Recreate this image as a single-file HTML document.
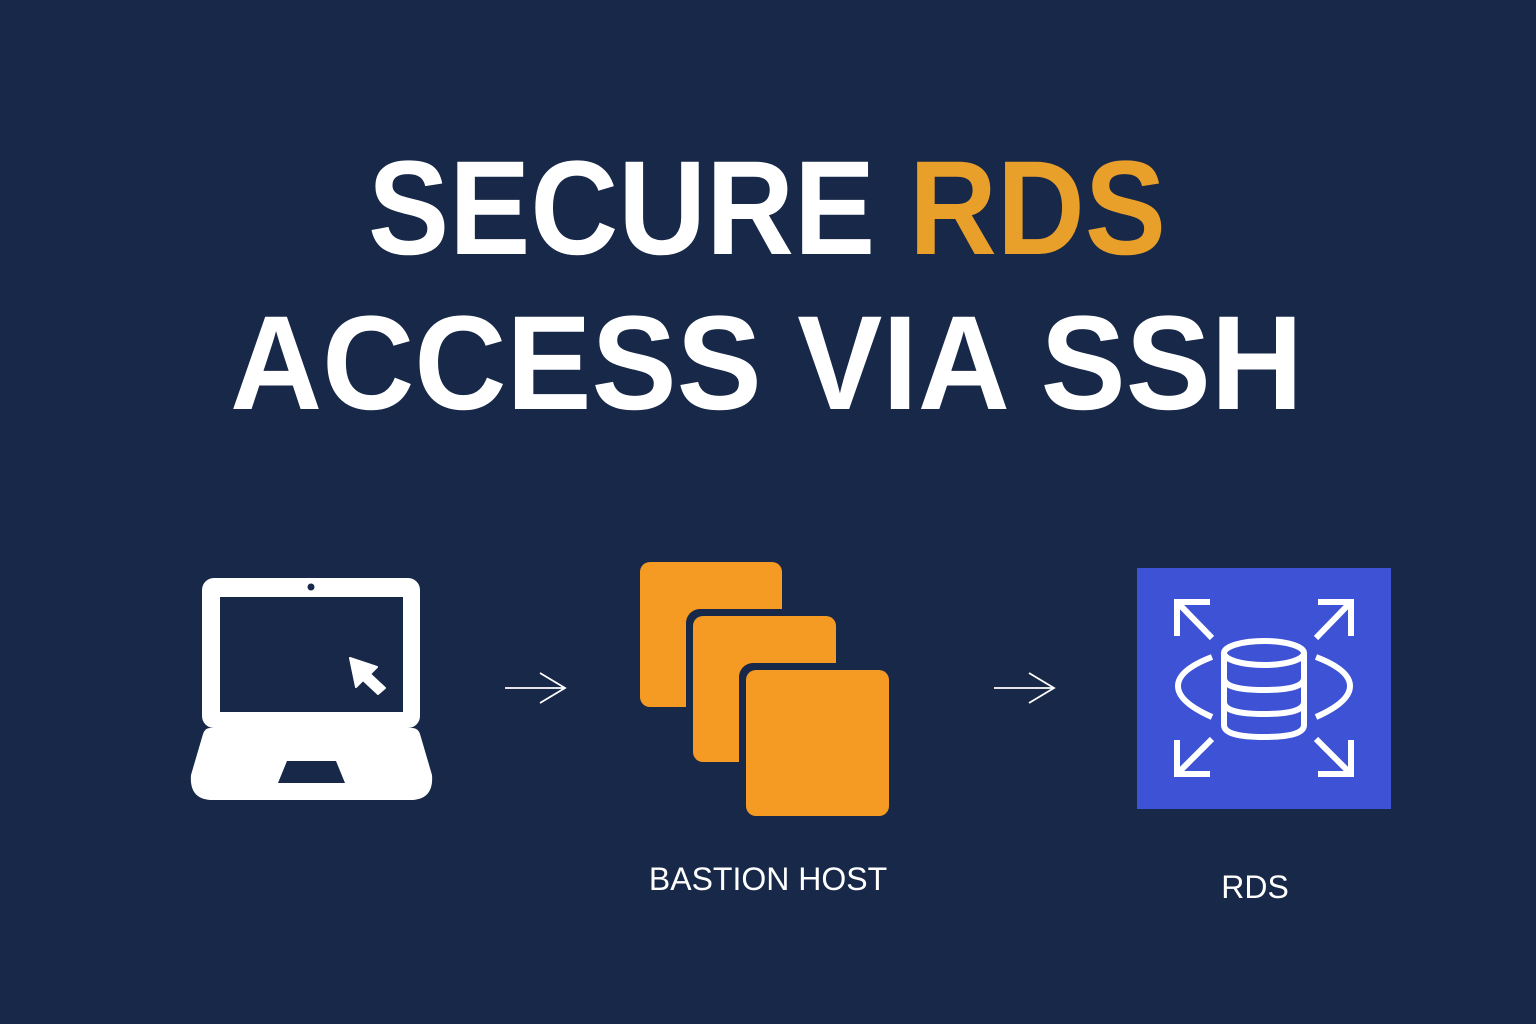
<!DOCTYPE html>
<html><head><meta charset="utf-8"><style>
html,body{margin:0;padding:0;background:#182848;}
svg{display:block}
</style></head><body>
<svg width="1536" height="1024" viewBox="0 0 1536 1024" xmlns="http://www.w3.org/2000/svg">
<rect width="1536" height="1024" fill="#182848"/>
<g font-family="Liberation Sans, Arial, sans-serif" font-weight="700" font-size="134">
<text x="368" y="254" textLength="798" lengthAdjust="spacingAndGlyphs"><tspan fill="#ffffff">SECURE </tspan><tspan fill="#e8a02a">RDS</tspan></text>
<text x="230" y="409" fill="#ffffff" textLength="1073" lengthAdjust="spacingAndGlyphs">ACCESS VIA SSH</text>
</g>
<rect x="202" y="578" width="218" height="150" rx="12" fill="#fff"/>
<rect x="220" y="597" width="183" height="115" fill="#182848"/>
<circle cx="311" cy="587" r="3.5" fill="#182848"/>
<path d="M210 728 H412 Q418 728 420 734 L432 775 Q434 800 410 800 H213 Q189 800 191 775 L203 734 Q205 728 210 728 Z" fill="#fff"/>
<path d="M287 761 H336 L345 783 H278 Z" fill="#182848"/>
<path d="M350 658 L377 667 L370 674 L385 688 L378 694 L363 680 L356 687 Z" fill="#fff" stroke="#fff" stroke-width="2" stroke-linejoin="round"/>
<g stroke="#fff" stroke-width="1.8" fill="none">
<path d="M505 688 H564 M540 673 L565 688 L540 703"/>
<path d="M994 688 H1053 M1029 673 L1054 688 L1029 703"/>
</g>
<rect x="640" y="562" width="142" height="145" rx="10" fill="#f59b23"/>
<rect x="686" y="609" width="157" height="160" rx="14" fill="#182848"/>
<rect x="693" y="616" width="143" height="146" rx="10" fill="#f59b23"/>
<rect x="739" y="663" width="157" height="160" rx="14" fill="#182848"/>
<rect x="746" y="670" width="143" height="146" rx="10" fill="#f59b23"/>
<rect x="1137" y="568" width="254" height="241" fill="#3d52d5"/>
<g stroke="#fff" stroke-width="6" fill="none">
<path d="M1177 636 V602 H1210 M1179 604 L1212 638"/>
<path d="M1351 636 V602 H1318 M1349 604 L1316 638"/>
<path d="M1177 740 V774 H1210 M1179 772 L1212 739"/>
<path d="M1351 740 V774 H1318 M1349 772 L1316 739"/>
<path d="M1212 657 Q1178 670 1178 686 Q1178 702 1212 717"/>
<path d="M1316 657 Q1350 670 1350 686 Q1350 702 1316 717"/>
<ellipse cx="1264" cy="653" rx="40" ry="12"/>
<path d="M1224 653 V725 Q1224 737 1264 737 Q1304 737 1304 725 V653"/>
<path d="M1224 678 Q1224 690 1264 690 Q1304 690 1304 678"/>
<path d="M1224 702 Q1224 714 1264 714 Q1304 714 1304 702"/>
</g>
<g font-family="Liberation Sans, Arial, sans-serif" font-size="32" fill="#fff" text-anchor="middle">
<text x="768" y="890">BASTION HOST</text>
<text x="1255" y="898">RDS</text>
</g>
</svg>
</body></html>
